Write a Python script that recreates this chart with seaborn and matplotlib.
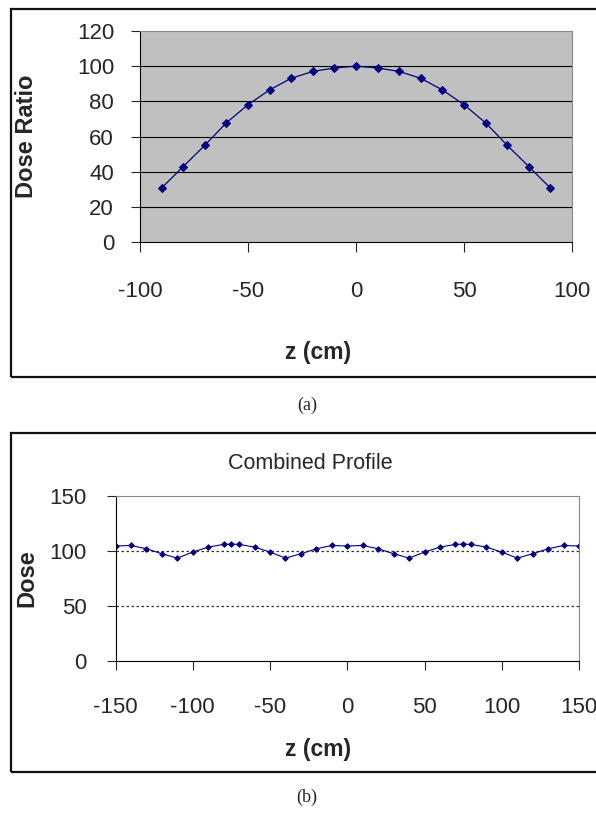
import matplotlib
matplotlib.use("Agg")
import matplotlib.pyplot as plt
import seaborn as sns
from matplotlib.patches import Rectangle

# (a) single-field dose ratio along z
z_a = [-90, -80, -70, -60, -50, -40, -30, -20, -10, 0, 10, 20, 30, 40, 50, 60, 70, 80, 90]
dose_ratio = [30.7, 42.9, 55.0, 67.8, 78.1, 86.5, 93.1, 97.0, 99.0, 100.0,
              99.0, 97.0, 93.1, 86.5, 78.1, 67.8, 55.0, 42.9, 30.7]

# (b) combined profile
z_b = [-150, -140, -130, -120, -110, -100, -90, -80, -75, -70, -60, -50, -40, -30, -20, -10, 0,
       10, 20, 30, 40, 50, 60, 70, 75, 80, 90, 100, 110, 120, 130, 140, 150]
dose_b = [104.5, 105.0, 102.0, 97.5, 93.5, 99.0, 103.5, 106.0, 106.2, 106.0, 103.5, 99.0, 93.5, 97.5, 102.0, 105.0, 104.5,
          105.0, 102.0, 97.5, 93.5, 99.0, 103.5, 106.0, 106.2, 106.0, 103.5, 99.0, 93.5, 97.5, 102.0, 105.0, 104.5]

xticks_a = [-100, -50, 0, 50, 100]
yticks_a = [0, 20, 40, 60, 80, 100, 120]
xticks_b = [-150, -100, -50, 0, 50, 100, 150]
yticks_b = [0, 50, 100, 150]

sns.set_style("ticks")
plt.rcParams["font.family"] = ["Liberation Sans", "DejaVu Sans"]
plt.rcParams["axes.unicode_minus"] = False

fig = plt.figure(figsize=(5.96, 8.14), dpi=100)

# outer frames (run off the right edge like the scan)
for y0, h in [(0.5369, 0.452), (0.0516, 0.4165)]:
    fig.patches.append(Rectangle((0.0185, y0), 1.2, h, transform=fig.transFigure,
                                 fill=False, edgecolor="#111111", linewidth=1.6))


def style_spines(ax):
    for s in ["top", "right"]:
        ax.spines[s].set_color("#888888")
        ax.spines[s].set_linewidth(0.8)
    for s in ["left", "bottom"]:
        ax.spines[s].set_color("black")
        ax.spines[s].set_linewidth(0.8)


# ---- panel (a)
ax1 = fig.add_axes([0.2349, 0.7027, 0.7248, 0.2592])
ax1.set_facecolor("#C0C0C0")
sns.lineplot(x=z_a, y=dose_ratio, ax=ax1, color="#000080", linewidth=0.9,
             marker="D", markersize=4.3, markeredgecolor="#000080")
ax1.set_xlim(-100, 100)
ax1.set_ylim(0, 120)
ax1.set_xticks(xticks_a)
ax1.set_yticks(yticks_a)
for yv in yticks_a[1:-1]:
    ax1.axhline(yv, color="black", linewidth=0.8, zorder=0.5)
style_spines(ax1)
ax1.tick_params(axis="x", length=7, width=0.8, pad=21, labelsize=16, direction="out")
ax1.tick_params(axis="y", length=6.7, width=0.8, pad=12, labelsize=16, direction="out")
ax1.set_xlabel("z (cm)", fontsize=16.5, fontweight="bold")
ax1.xaxis.set_label_coords(0.412, -0.469)
ax1.set_ylabel("Dose Ratio", fontsize=17, fontweight="bold")
ax1.yaxis.set_label_coords(-0.236, 0.5)

fig.text(0.515, 0.502, "(a)", ha="center", va="center", fontsize=13,
         family=["Liberation Serif", "DejaVu Serif"])

# ---- panel (b)
ax2 = fig.add_axes([0.1938, 0.188, 0.7777, 0.2027])
ax2.set_facecolor("white")
sns.lineplot(x=z_b, y=dose_b, ax=ax2, color="#000080", linewidth=0.8,
             marker="D", markersize=2.8, markeredgecolor="#000080")
ax2.set_xlim(-150, 150)
ax2.set_ylim(0, 150)
ax2.set_xticks(xticks_b)
ax2.set_yticks(yticks_b)
for yv in [50, 100]:
    ax2.axhline(yv, color="#333333", linewidth=0.9, linestyle=(0, (2, 2)), zorder=0.5)
style_spines(ax2)
ax2.tick_params(axis="x", length=6.7, width=0.8, pad=19, labelsize=16, direction="out")
ax2.tick_params(axis="y", length=6.7, width=0.8, pad=14, labelsize=16, direction="out")
ax2.set_title("Combined Profile", fontsize=15.5, x=0.42, y=1.164, pad=0)
ax2.set_xlabel("z (cm)", fontsize=16.5, fontweight="bold")
ax2.xaxis.set_label_coords(0.437, -0.467)
ax2.set_ylabel("Dose", fontsize=17, fontweight="bold")
ax2.yaxis.set_label_coords(-0.167, 0.5)

fig.text(0.515, 0.021, "(b)", ha="center", va="center", fontsize=13,
         family=["Liberation Serif", "DejaVu Serif"])

fig.savefig("out.png", dpi=100)
plt.close(fig)
